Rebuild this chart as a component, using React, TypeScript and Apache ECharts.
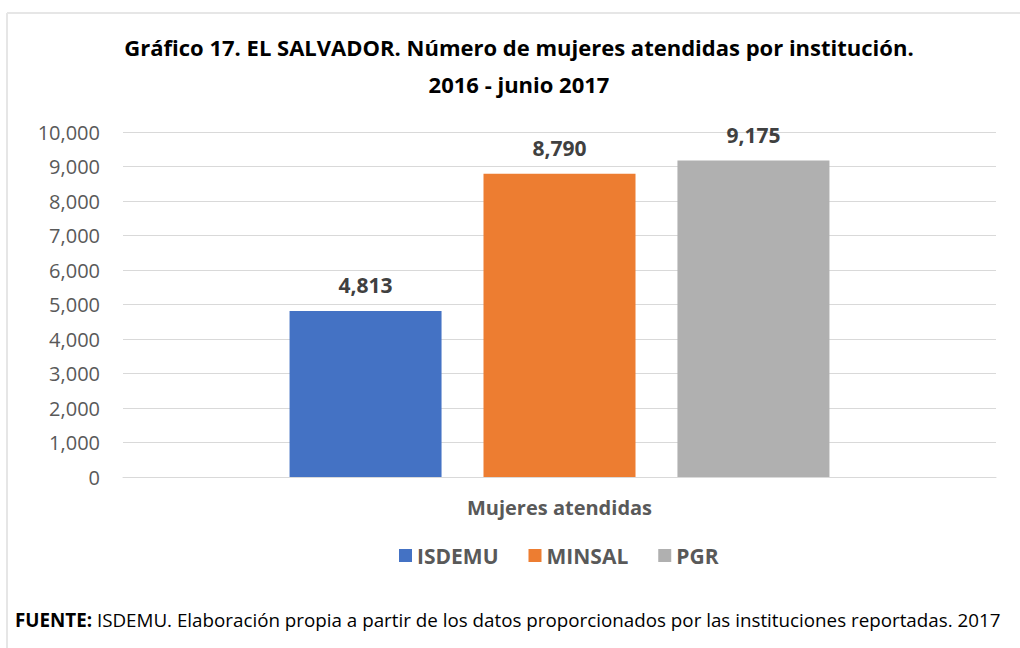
import React, { useEffect, useRef } from "react";
import * as echarts from "echarts";

const categories = ["Mujeres atendidas"];
const seriesNames = ["ISDEMU", "MINSAL", "PGR"];
const seriesValues = [4813, 8790, 9175];
const seriesColors = ["#4472C4", "#ED7D31", "#B0B0B0"];
const titleText = "Gráfico 17. EL SALVADOR. Número de mujeres atendidas por institución.\n2016 - junio 2017";
const footerBold = "FUENTE:";
const footerText = " ISDEMU. Elaboración propia a partir de los datos proporcionados por las instituciones reportadas. 2017";

const FONT = "'Open Sans', 'Noto Sans', sans-serif";

export default function App() {
  const ref = useRef<HTMLDivElement>(null);
  useEffect(() => {
    document.body.style.margin = "0";
    const chart = echarts.init(ref.current!, undefined, { renderer: "svg" });
    const fmt = (v: number) => v.toLocaleString("en-US");
    chart.setOption({
      animation: false,
      backgroundColor: "#ffffff",
      textStyle: { fontFamily: FONT },
      title: [
        {
          text: titleText,
          left: 514,
          textAlign: "center",
          top: 23,
          textStyle: {
            fontFamily: FONT,
            fontWeight: "bold",
            fontSize: 22,
            lineHeight: 37,
            color: "#000000",
          },
        },
        {
          text: "{b|" + footerBold + "}{r|" + footerText + "}",
          left: 10,
          top: 605,
          textStyle: {
            rich: {
              b: { fontFamily: FONT, fontWeight: "bold", fontSize: 18.8, color: "#000000" },
              r: { fontFamily: FONT, fontWeight: "normal", fontSize: 18.8, color: "#000000" },
            },
          },
        },
      ],
      graphic: [
        { type: "line", shape: { x1: 7, y1: 13, x2: 1020, y2: 13 }, style: { stroke: "#e6e6e6", lineWidth: 2 } },
        { type: "line", shape: { x1: 7, y1: 13, x2: 7, y2: 648 }, style: { stroke: "#e6e6e6", lineWidth: 2 } },
      ],
      legend: {
        data: seriesNames,
        top: 540,
        left: 394,
        icon: "rect",
        itemWidth: 13,
        itemHeight: 13,
        itemGap: 30,
        itemStyle: { borderWidth: 0 },
        textStyle: { fontFamily: FONT, fontWeight: "bold", fontSize: 21, color: "#595959" },
      },
      grid: { left: 123, right: 24, top: 132, bottom: 171, containLabel: false },
      xAxis: {
        type: "category",
        data: categories,
        axisTick: { show: false },
        axisLine: { show: true, lineStyle: { color: "#d9d9d9", width: 1 } },
        axisLabel: {
          margin: 20,
          fontFamily: FONT,
          fontWeight: "bold",
          fontSize: 20,
          color: "#595959",
        },
      },
      yAxis: {
        type: "value",
        min: 0,
        max: 10000,
        interval: 1000,
        axisLine: { show: false },
        axisTick: { show: false },
        splitLine: { lineStyle: { color: "#d9d9d9", width: 1 } },
        axisLabel: {
          margin: 23,
          fontFamily: FONT,
          fontSize: 20,
          color: "#595959",
          formatter: (v: number) => fmt(v),
        },
      },
      series: seriesNames.map((name, i) => ({
        name,
        type: "bar",
        data: [seriesValues[i]],
        barWidth: 152,
        barGap: "27.6%",
        itemStyle: { color: seriesColors[i] },
        label: {
          show: true,
          position: "top",
          distance: 15,
          fontFamily: FONT,
          fontWeight: "bold",
          fontSize: 21,
          color: "#404040",
          formatter: (p: any) => fmt(p.value),
        },
      })),
    });
    return () => chart.dispose();
  }, []);
  return <div ref={ref} style={{ width: 1020, height: 648 }} />;
}
